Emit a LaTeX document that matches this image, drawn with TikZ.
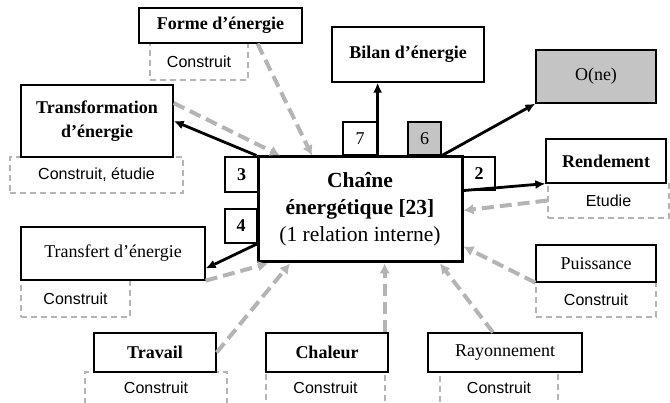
\documentclass[tikz,border=0pt]{standalone}
\usepackage{fontspec}
\setmainfont{Liberation Serif}
\setsansfont{Liberation Sans}
\usetikzlibrary{arrows.meta,calc}
\definecolor{lgray}{HTML}{B4B4B4}
\definecolor{fgray}{HTML}{C4C4C4}
\tikzset{
  box/.style={draw=black, line width=1.3pt, fill=white, inner sep=0pt, align=center,
    font=\fontsize{18}{20}\selectfont\bfseries},
  boxr/.style={box, font=\fontsize{18}{20}\selectfont},
  sub/.style={draw=lgray, dashed, dash pattern=on 6pt off 4pt, line width=1.2pt, fill=white, inner sep=0pt,
    font=\fontsize{16}{18}\selectfont\sffamily},
  num/.style={draw=black, line width=1.3pt, fill=white, inner sep=0pt, font=\fontsize{18}{20}\selectfont},
  blk/.style={line width=2.8pt, -{Latex[length=10pt,width=9pt]}},
  gry/.style={draw=lgray, line width=4pt, dash pattern=on 12pt off 6pt, -{Latex[length=10pt,width=11pt]}},
}
\begin{document}
\begin{tikzpicture}[x=1pt,y=-1pt]
\path[use as bounding box] (0,0) rectangle (670,403);
% sub boxes first
\node[sub, minimum width=98pt, minimum height=37pt] (formeC) at (199,61.5) {Construit};
\node[sub, minimum width=173pt, minimum height=36pt] (transfoC) at (96.5,175) {Construit, étudie};
\node[sub, minimum width=121pt, minimum height=35pt] (rendC) at (608.5,200.5) {Etudie};
\node[sub, minimum width=109pt, minimum height=37pt] (transfC) at (75.5,298.5) {Construit};
\node[sub, minimum width=120pt, minimum height=35pt] (puissC) at (596,299.5) {Construit};
\node[sub, minimum width=142pt, minimum height=40pt] (travailC) at (156,392) {\raisebox{8pt}{Construit}};
\node[sub, minimum width=119pt, minimum height=40pt] (chaleurC) at (325.5,392) {\raisebox{8pt}{Construit}};
\node[sub, minimum width=118pt, minimum height=40pt] (rayonC) at (499,392) {\raisebox{8pt}{Construit}};
% main boxes
\node[box, minimum width=163pt, minimum height=35pt] (forme) at (220.5,25.5) {Forme d’énergie};
\node[box, minimum width=152pt, minimum height=55pt] (bilan) at (408,54.5) {Bilan d’énergie};
\node[boxr, fill=fgray, minimum width=120pt, minimum height=53pt] (one) at (596,76.5) {O(ne)};
\node[box, minimum width=152pt, minimum height=72pt] (transfo) at (97,121) {Transformation\\[4pt]d’énergie};
\node[box, minimum width=120pt, minimum height=44pt] (rend) at (606,161) {Rendement};
\node[boxr, minimum width=184pt, minimum height=53pt] (transf) at (113,253.5) {\raisebox{3pt}{Transfert d’énergie}};
\node[boxr, minimum width=120pt, minimum height=37pt] (puiss) at (596,263.5) {\raisebox{-3pt}{Puissance}};
\node[box, minimum width=122pt, minimum height=39pt] (travail) at (155,352.5) {\raisebox{-4pt}{Travail}};
\node[box, minimum width=122pt, minimum height=39pt] (chaleur) at (327,352.5) {\raisebox{-4pt}{Chaleur}};
\node[boxr, minimum width=154pt, minimum height=39pt] (rayon) at (505,352.5) {\raisebox{-4pt}{Rayonnement}};
% central
\node[draw=black, line width=3pt, fill=white, inner sep=0pt, minimum width=204pt, minimum height=105pt,
  align=center, font=\fontsize{21.5}{27}\selectfont] (central) at (360,209.5)
  {\textbf{Chaîne}\\\textbf{énergétique [23]}\\(1 relation interne)};
\node[num, minimum width=34pt, minimum height=33pt] (n7) at (360,138.5) {7};
\node[num, fill=fgray, minimum width=33pt, minimum height=33pt] (n6) at (424.5,138.5) {6};
\node[num, minimum width=33pt, minimum height=35pt, font=\fontsize{18}{20}\selectfont\bfseries] (n3) at (241.5,174.5) {3};
\node[num, minimum width=32pt, minimum height=34pt, font=\fontsize{18}{20}\selectfont\bfseries] (n4) at (241,226) {4};
\node[num, minimum width=32pt, minimum height=33pt, font=\fontsize{18}{20}\selectfont\bfseries] (n2) at (479,173.5) {2};
% gray arrows
\draw[gry] ([xshift=37pt]forme.south) -- ([xshift=-48pt]central.north);
\draw[gry] ([yshift=18pt]transfo.east) -- ([xshift=-80pt]central.north);
\draw[gry] (rendC.west) -- ([yshift=-1pt]central.east);
\draw[gry] (puiss.south west) -- ([yshift=-37pt]central.east);
\draw[gry] ([xshift=-12pt]rayon.north) -- ([xshift=80pt]central.south);
\draw[gry] ([xshift=-4pt]chaleur.north east) -- ([xshift=-4pt]chaleur.north east |- central.south);
\draw[gry] (travail.east) -- ([xshift=-70pt]central.south);
\draw[gry] (transf.south east) -- ([xshift=-92pt]central.south);
% black arrows
\draw[blk] (n7.east |- central.north) -- (n7.east |- bilan.south);
\draw[blk] (n6.south east) -- (one.south west);
\draw[blk] (n2.south west) -- (rend.south west);
\draw[blk] (central.north west) -- (transfo.east);
\draw[blk] (n4.south east) -- ([yshift=-15pt]transf.east);
\end{tikzpicture}
\end{document}
